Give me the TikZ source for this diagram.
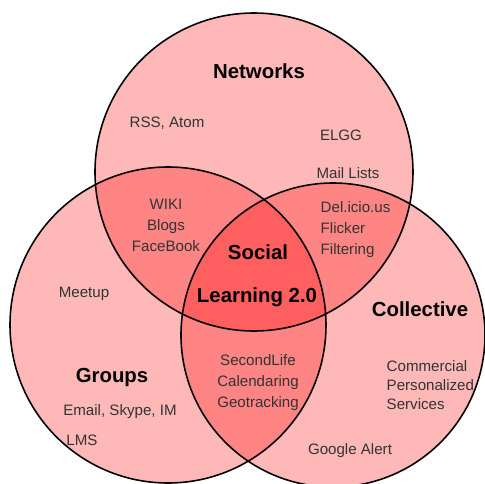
\documentclass[tikz,border=0pt]{standalone}
\usepackage{fontspec}
\setmainfont{Liberation Sans}
\usetikzlibrary{positioning}

\begin{document}
\begin{tikzpicture}[
    x=0.02cm,
    y=-0.02cm,
    thick
]

\tikzstyle{set}=[
    fill=red,
    fill opacity=0.28
]

\tikzstyle{rim}=[
    draw=black,
    line width=0.9pt
]

\tikzstyle{heading}=[
    font=\fontsize{11.6}{13}\selectfont\bfseries,
    text=black,
    inner sep=0pt
]

\tikzstyle{item}=[
    font=\fontsize{8.6}{12}\selectfont,
    text=black!80,
    align=center,
    inner sep=0pt
]

\useasboundingbox (0,0) rectangle (485,484);
\fill[white] (0,0) rectangle (485,484);

\coordinate (net) at (254,172);
\coordinate (grp) at (168,325);
\coordinate (col) at (333,335);

\fill[set] (net) circle [radius=159];
\fill[set] (grp) circle [radius=158];
\fill[set] (col) circle [radius=152];

\draw[rim] (net) circle [radius=159];
\draw[rim] (grp) circle [radius=158];
\draw[rim] (col) circle [radius=152];

\node[heading] (networks) at (259,71) {Networks};
\node[heading] (groups) at (112,377) {Groups};
\node[heading] (collective) at (420,309) {Collective};
\node[heading] (social) at (258,252) {Social};
\node[heading] (learning) at (257,297) {Learning 2.0};

\node[item] (rss) at (167,123) {RSS, Atom};
\node[item] (elgg) at (341,135) {ELGG};
\node[item] (mail) at (348,173) {Mail Lists};
\node[item] (wiki) at (166,225) {WIKI\\Blogs\\FaceBook};
\node[item, align=left, anchor=west] (delicious) at (320,230) {Del.icio.us\\Flicker\\Filtering};
\node[item] (meetup) at (84,294) {Meetup};
\node[item] (second) at (258,383) {SecondLife\\Calendaring\\Geotracking};
\node[item, align=left, anchor=west, font=\fontsize{8.6}{11}\selectfont] (commercial) at (386,385) {Commercial\\Personalized\\Services};
\node[item] (email) at (120,412) {Email, Skype, IM};
\node[item] (lms) at (82,440) {LMS};
\node[item] (google) at (350,451) {Google Alert};

\end{tikzpicture}
\end{document}
